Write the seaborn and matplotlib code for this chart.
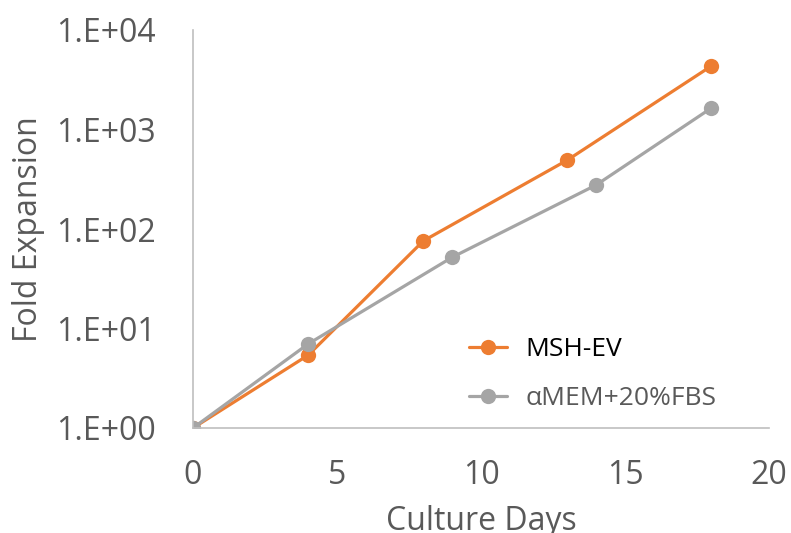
import numpy as np
import pandas as pd
import matplotlib
matplotlib.use("Agg")
import matplotlib.pyplot as plt
from matplotlib.ticker import FixedLocator, FuncFormatter, NullLocator
import seaborn as sns

# Données
msh_days = [0, 4, 8, 13, 18]
msh_fold = [1.0, 5.4, 76, 493, 4350]
amem_days = [0, 4, 9, 14, 18]
amem_fold = [1.0, 7.0, 52, 277, 1645]
series_names = ["MSH-EV", "αMEM+20%FBS"]
series_colors = ["#ED7D31", "#A5A5A5"]
x_ticks = [0, 5, 10, 15, 20]
y_ticks = [1, 10, 100, 1000, 10000]

df = pd.concat([
    pd.DataFrame({"day": msh_days, "fold": msh_fold, "group": series_names[0]}),
    pd.DataFrame({"day": amem_days, "fold": amem_fold, "group": series_names[1]}),
])

sns.set_style("white")
plt.rcParams["font.family"] = ["Open Sans", "DejaVu Sans"]

fig, ax = plt.subplots(figsize=(7.91, 5.33), dpi=100)
fig.subplots_adjust(left=193 / 791, right=769 / 791, top=1 - 30 / 533, bottom=1 - 428 / 533)

sns.lineplot(data=df, x="day", y="fold", hue="group", palette=series_colors,
             hue_order=series_names, marker="o", markersize=11, markeredgewidth=0,
             linewidth=2.3, ax=ax, sort=False)

ax.set_yscale("log")
ax.set_ylim(1, 10000)
ax.set_xlim(0, 20)
ax.yaxis.set_major_locator(FixedLocator(y_ticks))
ax.yaxis.set_minor_locator(NullLocator())
ax.yaxis.set_major_formatter(FuncFormatter(lambda v, p: "1.E+%02d" % int(round(np.log10(v)))))
ax.set_xticks(x_ticks)

axis_col = "#BFBFBF"
text_col = "#595959"
for s in ["top", "right"]:
    ax.spines[s].set_visible(False)
for s in ["left", "bottom"]:
    ax.spines[s].set_color(axis_col)
    ax.spines[s].set_linewidth(1.2)
ax.tick_params(axis="both", which="major", direction="out", length=8, width=1.2,
               color=axis_col, labelcolor=text_col, labelsize=23)
ax.tick_params(axis="y", pad=19)
ax.tick_params(axis="x", pad=14)

# le titre de l'axe x est coupé en bas, comme sur l'original
ax.set_xlabel("Culture Days", fontsize=23, color=text_col, labelpad=10)
ax.set_ylabel("Fold Expansion", fontsize=23, color=text_col, labelpad=8)

leg = ax.legend(loc="upper left", bbox_to_anchor=(0.46, 0.255), frameon=False,
                fontsize=19, handlelength=1.45, handletextpad=0.7,
                labelspacing=0.9, borderaxespad=0)
leg.get_texts()[0].set_color("#000000")
leg.get_texts()[1].set_color(text_col)

fig.savefig("out.png", dpi=100)
